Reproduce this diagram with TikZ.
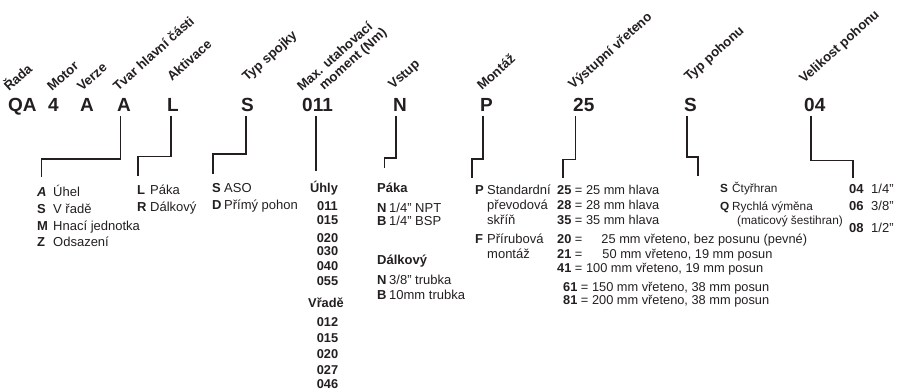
\documentclass[tikz,border=0pt]{standalone}
\usepackage{fontspec}
\setmainfont{Liberation Sans}
\definecolor{ink}{HTML}{231F20}
\newcommand{\kvrow}[3]{\rlap{\textbf{#2}}\hspace{#1}#3}
\begin{document}
\begin{tikzpicture}[x=1pt,y=-1pt,
  every node/.style={inner sep=0pt, anchor=base west, text=ink},
  code/.style={font=\bfseries\fontsize{19}{19}\selectfont},
  lab/.style={rotate=42, font=\bfseries\fontsize{13.2}{14}\selectfont},
  txt/.style={font=\fontsize{13}{15}\selectfont},
  txtb/.style={font=\fontsize{12.8}{15}\selectfont},
  txts/.style={font=\fontsize{11.8}{15}\selectfont},
  num/.style={font=\bfseries\fontsize{12.8}{15}\selectfont, anchor=base},
  conn/.style={draw=ink, line width=1.3pt}]
\useasboundingbox (0,0) rectangle (898,390);
% rotated headers
\node[lab] (hRada) at (9,92) {Řada};
\node[lab] (hMotor) at (52,92) {Motor};
\node[lab] (hVerze) at (82,92) {Verze};
\node[lab] (hTvar) at (118,92) {Tvar hlavní části};
\node[lab] (hAkt) at (172,82) {Aktivace};
\node[lab] (hTyp) at (247,82) {Typ spojky};
\node[lab] (hMax) at (302,92) {Max. utahovací};
\node[lab] (hMom) at (324,91) {moment (Nm)};
\node[lab] (hVst) at (393,90) {Vstup};
\node[lab] (hMon) at (482,91) {Montáž};
\node[lab] (hVys) at (573,90) {Výstupní vřeteno};
\node[lab] (hTpo) at (689,82) {Typ pohonu};
\node[lab] (hVel) at (804,84) {Velikost pohonu};
% codes
\node[code] (cQA) at (8,112) {QA};
\node[code] (c4) at (48,112) {4};
\node[code] (cA1) at (80,112) {A};
\node[code] (cA2) at (117,112) {A};
\node[code] (cL) at (167,112) {L};
\node[code] (cS1) at (241,112) {S};
\node[code] (c011) at (302,112) {011};
\node[code] (cN) at (393,112) {N};
\node[code] (cP) at (480,112) {P};
\node[code] (c25) at (573,112) {25};
\node[code] (cS2) at (684,112) {S};
\node[code] (c04) at (804,112) {04};
% connector ends
\coordinate (sA) at (120.7,116);  \coordinate (eA) at (41.7,177);
\coordinate (sL) at (171,116);    \coordinate (eL) at (138,176);
\coordinate (sS) at (246,116);    \coordinate (eS) at (213,174);
\coordinate (s011) at (316,116);  \coordinate (e011) at (316,171);
\coordinate (sN) at (396,116);    \coordinate (eN) at (384.5,168);
\coordinate (sP) at (483,116);    \coordinate (eP) at (472,178);
\coordinate (s25) at (575.7,116); \coordinate (e25) at (563,178);
\coordinate (sS2) at (687,116);   \coordinate (eS2) at (698,176);
\coordinate (s04) at (811,116);   \coordinate (e04) at (853,178);
\draw[conn] (sA) -- ++(0,43) -| (eA);
\draw[conn] (sL) -- ++(0,40.7) -| (eL);
\draw[conn] (sS) -- ++(0,38) -| (eS);
\draw[conn] (s011) -- (e011);
\draw[conn] (sN) -- ++(0,42) -| (eN);
\draw[conn] (sP) -- ++(0,43) -| (eP);
\draw[conn] (s25) -- ++(0,43.3) -| (e25);
\draw[conn] (sS2) -- ++(0,41) -| (eS2);
\draw[conn] (s04) -- ++(0,44.5) -| (e04);
% block 1
\node[txt] (b1a) at (37,196.5) {\kvrow{16pt}{\itshape A}{Úhel}};
\node[txt] (b1b) at (37,213.5) {\kvrow{16pt}{S}{V řadě}};
\node[txt] (b1c) at (37,230.5) {\kvrow{16pt}{M}{Hnací jednotka}};
\node[txt] (b1d) at (37,246.5) {\kvrow{16pt}{Z}{Odsazení}};
% block 2
\node[txt] (b2a) at (137,194.5) {\kvrow{13pt}{L}{Páka}};
\node[txt] (b2b) at (137,211.5) {\kvrow{13pt}{R}{Dálkový}};
% block 3
\node[txt] (b3a) at (212,193) {\kvrow{12pt}{S}{ASO}};
\node[txt] (b3b) at (212,209.5) {\kvrow{12pt}{D}{Přímý pohon}};
% block 4
\node[num] (b4h) at (324,193) {Úhly};
\node[num] (b4a) at (327.5,211) {011};
\node[num] (b4b) at (327.5,224.5) {015};
\node[num] (b4c) at (327.5,243) {020};
\node[num] (b4d) at (327.5,256) {030};
\node[num] (b4e) at (327.5,271) {040};
\node[num] (b4f) at (327.5,286) {055};
\node[num] (b4v) at (326,308) {Vřadě};
\node[num] (b4g) at (327.5,327) {012};
\node[num] (b4i) at (327.5,343) {015};
\node[num] (b4j) at (327.5,358.5) {020};
\node[num] (b4k) at (327.5,374) {027};
\node[num] (b4l) at (327.5,388.5) {046};
% block 5
\node[txt,font=\bfseries\fontsize{13}{15}\selectfont] (b5h) at (377,193) {Páka};
\node[txt] (b5a) at (377,213) {\kvrow{12pt}{N}{1/4" NPT}};
\node[txt] (b5b) at (377,225.5) {\kvrow{12pt}{B}{1/4" BSP}};
\node[txt,font=\bfseries\fontsize{13}{15}\selectfont] (b5d) at (377,264.5) {Dálkový};
\node[txt] (b5e) at (377,284.5) {\kvrow{12pt}{N}{3/8" trubka}};
\node[txt] (b5f) at (377,300) {\kvrow{12pt}{B}{10mm trubka}};
% block 6
\node[txt] (b6a) at (475,194.5) {\kvrow{12pt}{P}{Standardní}};
\node[txt] (b6b) at (487,209.5) {převodová};
\node[txt] (b6c) at (487,224.5) {skříň};
\node[txt] (b6d) at (475,243.5) {\kvrow{12pt}{F}{Přírubová}};
\node[txt] (b6e) at (487,258.5) {montáž};
% block 7
\node[txtb] (b7a) at (557,194.5) {\textbf{25} = 25 mm hlava};
\node[txtb] (b7b) at (557,209.5) {\textbf{28} = 28 mm hlava};
\node[txtb] (b7c) at (557,224.5) {\textbf{35} = 35 mm hlava};
\node[txtb] (b7d) at (557,243.5) {\textbf{20} =\hspace{19pt}25 mm vřeteno, bez posunu (pevné)};
\node[txtb] (b7e) at (557,258.5) {\textbf{21} =\hspace{20pt}50 mm vřeteno, 19 mm posun};
\node[txtb] (b7f) at (557,272.5) {\textbf{41} = 100 mm vřeteno, 19 mm posun};
\node[txtb] (b7g) at (563,291.5) {\textbf{61} = 150 mm vřeteno, 38 mm posun};
\node[txtb] (b7h) at (563,304.5) {\textbf{81} = 200 mm vřeteno, 38 mm posun};
% block 8
\node[txts] (b8a) at (720,192.5) {\kvrow{12pt}{S}{Čtyřhran}};
\node[txts] (b8b) at (720,210.5) {\kvrow{12pt}{Q}{Rychlá výměna}};
\node[txts] (b8c) at (737,224.5) {(maticový šestihran)};
% block 9
\node[txt] (b9a) at (849,193.5) {\kvrow{22pt}{04}{1/4"}};
\node[txt] (b9b) at (849,210.5) {\kvrow{22pt}{06}{3/8"}};
\node[txt] (b9c) at (849,232.5) {\kvrow{22pt}{08}{1/2"}};
\end{tikzpicture}
\end{document}
